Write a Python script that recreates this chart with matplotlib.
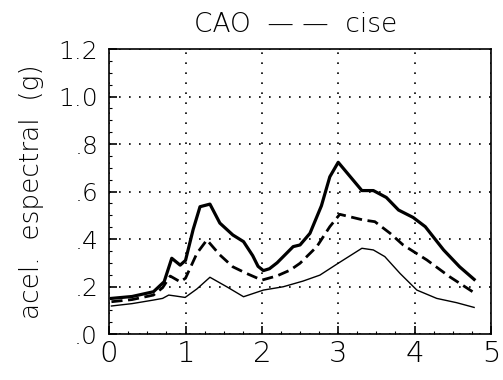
import numpy as np
import matplotlib
matplotlib.use("Agg")
import matplotlib.pyplot as plt
from matplotlib.ticker import MultipleLocator

# periods (s) and spectral accelerations (g)
x_top = [0.03, 0.3, 0.58, 0.72, 0.82, 0.93, 1.0, 1.1, 1.19, 1.32, 1.45, 1.62, 1.76, 1.88, 1.95, 2.02, 2.1, 2.2,
         2.41, 2.50, 2.63, 2.78, 2.89, 3.00, 3.31, 3.46, 3.63, 3.79, 3.98, 4.14, 4.38, 4.59, 4.78]
y_top = [0.150, 0.158, 0.178, 0.220, 0.319, 0.290, 0.310, 0.440, 0.536, 0.547, 0.467, 0.417, 0.389, 0.330, 0.285, 0.267, 0.275, 0.300,
         0.368, 0.375, 0.424, 0.540, 0.662, 0.723, 0.604, 0.604, 0.575, 0.522, 0.491, 0.452, 0.354, 0.283, 0.230]

x_mid = [0.03, 0.3, 0.58, 0.70, 0.80, 0.93, 1.0, 1.15, 1.28, 1.45, 1.62, 1.80, 2.0, 2.2, 2.37, 2.5,
         2.72, 2.89, 3.02, 3.33, 3.48, 3.68, 3.85, 4.16, 4.46, 4.78]
y_mid = [0.136, 0.145, 0.164, 0.195, 0.244, 0.220, 0.235, 0.340, 0.396, 0.333, 0.283, 0.255, 0.227, 0.245, 0.269, 0.298,
         0.368, 0.452, 0.504, 0.480, 0.473, 0.424, 0.375, 0.312, 0.241, 0.174]

x_low = [0.03, 0.3, 0.58, 0.70, 0.78, 0.87, 0.995, 1.15, 1.32, 1.54, 1.76, 2.02, 2.28, 2.54, 2.76, 3.0,
         3.31, 3.46, 3.61, 3.81, 4.03, 4.29, 4.55, 4.78]
y_low = [0.118, 0.128, 0.143, 0.150, 0.164, 0.160, 0.154, 0.190, 0.239, 0.199, 0.157, 0.185, 0.199, 0.223, 0.248, 0.298,
         0.361, 0.354, 0.326, 0.255, 0.185, 0.150, 0.132, 0.112]

xticks = [0, 1, 2, 3, 4, 5]
yticks = [0.0, 0.2, 0.4, 0.6, 0.8, 1.0, 1.2]
ylabels = ['.0', '.2', '.4', '.6', '.8', '1.0', '1.2']

plt.rcParams['font.family'] = 'DejaVu Sans'

fig = plt.figure(figsize=(5.03, 3.80), dpi=100)
ax = fig.add_axes([0.217, 0.121, 0.759, 0.750])

ax.plot(x_top, y_top, color='black', lw=2.3, solid_joinstyle='round')
ax.plot(x_mid, y_mid, color='black', lw=2.0, linestyle=(0, (4, 2)))
ax.plot(x_low, y_low, color='black', lw=1.0)

ax.set_xlim(0, 5)
ax.set_ylim(0, 1.2)
ax.set_xticks(xticks)
ax.set_xticklabels([str(t) for t in xticks])
ax.set_yticks(yticks)
ax.set_yticklabels(ylabels)
ax.xaxis.set_minor_locator(MultipleLocator(0.25))
ax.yaxis.set_minor_locator(MultipleLocator(0.05))
ax.tick_params(which='major', direction='in', length=6, width=1.2)
ax.tick_params(axis='y', which='major', labelsize=18, pad=8)
ax.tick_params(axis='x', which='major', labelsize=21, pad=4)
ax.tick_params(which='minor', direction='in', length=2, width=0.8)
for lab in ax.get_xticklabels() + ax.get_yticklabels():
    lab.set_fontweight('light')

ax.grid(True, which='major', color='black', linestyle=(0, (1, 5)), linewidth=1.2)
for s in ax.spines.values():
    s.set_linewidth(1.2)

ax.set_ylabel('acel.  espectral  (g)', fontsize=19, fontweight='light', labelpad=10)
fig.text(296 / 503, 1 - 24 / 380, 'CAO  — —  cise', ha='center', va='center', fontsize=19, fontweight='light')

fig.savefig('out.png', dpi=100)
